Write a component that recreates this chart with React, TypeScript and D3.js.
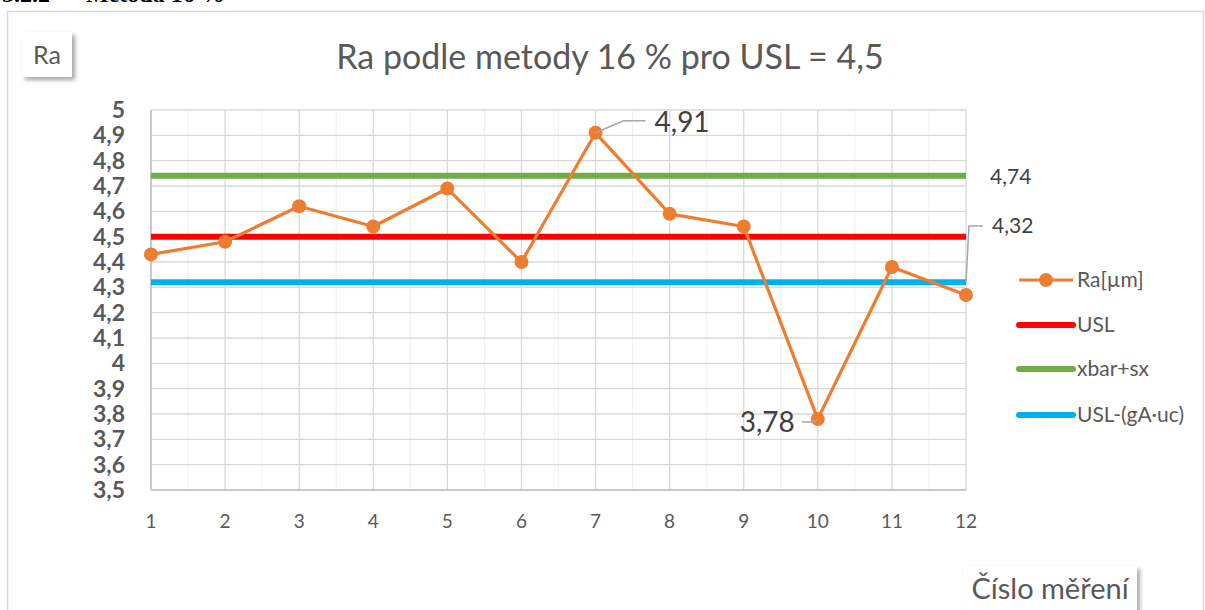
import React from "react";
import * as d3 from "d3";

const categories = [1, 2, 3, 4, 5, 6, 7, 8, 9, 10, 11, 12];
const raValues = [4.43, 4.48, 4.62, 4.54, 4.69, 4.4, 4.91, 4.59, 4.54, 3.78, 4.38, 4.27];
const uslValue = 4.5;
const xbarSxValue = 4.74;
const uslGaUcValue = 4.32;
const yTicks = [3.5, 3.6, 3.7, 3.8, 3.9, 4, 4.1, 4.2, 4.3, 4.4, 4.5, 4.6, 4.7, 4.8, 4.9, 5];
const legendItems = ["Ra[µm]", "USL", "xbar+sx", "USL-(gA·uc)"];

const FONT = "Lato, 'Open Sans', sans-serif";
const fmt = (v: number) => String(v).replace(".", ",");

export default function App() {
  const W = 1205, H = 610;
  const x = d3.scaleLinear().domain([1, 12]).range([151, 966]);
  const y = d3.scaleLinear().domain([3.5, 5]).range([490, 110]);
  const line = d3.line<number>().x((_, i) => x(categories[i])).y((d) => y(d));
  const minor = d3.range(1.5, 12, 1);
  const orange = "#ed7d31";
  const legendY = [280, 325, 369, 415];
  const legendColors = [orange, "#ff0000", "#70ad47", "#00b0f0"];

  const iMax = raValues.indexOf(d3.max(raValues)!);
  const iMin = raValues.indexOf(d3.min(raValues)!);

  return (
    <svg width={W} height={H} style={{ position: "absolute", left: 0, top: 0, background: "#fff" }}>
      <defs>
        <filter id="sh" x="-20%" y="-20%" width="160%" height="160%">
          <feDropShadow dx="3" dy="3" stdDeviation="2" floodColor="#000" floodOpacity="0.35" />
        </filter>
      </defs>
      <text x={2} y={2} xmlSpace="preserve" fontFamily="'Liberation Serif', serif" fontWeight="bold" fontSize={24} fill="#000">
        3.2.2      Metoda 16 %
      </text>
      <rect x={7.5} y={11.5} width={1196} height={640} fill="#fff" stroke="#d9d9d9" strokeWidth={1.5} />

      {/* gridlines */}
      {minor.map((m) => (
        <line key={"m" + m} x1={x(m)} x2={x(m)} y1={y(5)} y2={y(3.5)} stroke="#f0f0f0" strokeWidth={1.2} />
      ))}
      {categories.map((c) => (
        <line key={"v" + c} x1={x(c)} x2={x(c)} y1={y(5)} y2={y(3.5)} stroke="#d9d9d9" strokeWidth={1.3} />
      ))}
      {yTicks.map((t) => (
        <line key={"h" + t} x1={x(1)} x2={x(12)} y1={y(t)} y2={y(t)} stroke="#d9d9d9" strokeWidth={1.3} />
      ))}
      <line x1={x(1)} x2={x(1)} y1={y(5)} y2={y(3.5)} stroke="#bfbfbf" strokeWidth={1.5} />
      <line x1={x(1)} x2={x(12)} y1={y(3.5)} y2={y(3.5)} stroke="#bfbfbf" strokeWidth={1.5} />

      {/* y tick labels */}
      {yTicks.map((t) => (
        <text key={"yt" + t} x={125} y={y(t) + 8} textAnchor="end" fontFamily={FONT} fontWeight="bold" fontSize={23} fill="#595959">
          {fmt(t)}
        </text>
      ))}
      {/* x tick labels */}
      {categories.map((c) => (
        <text key={"xt" + c} x={x(c)} y={528} textAnchor="middle" fontFamily={FONT} fontSize={19} fill="#595959">
          {c}
        </text>
      ))}

      {/* reference lines */}
      <line x1={x(1)} x2={x(12)} y1={y(xbarSxValue)} y2={y(xbarSxValue)} stroke="#70ad47" strokeWidth={6} />
      <line x1={x(1)} x2={x(12)} y1={y(uslValue)} y2={y(uslValue)} stroke="#ff0000" strokeWidth={6} />
      <line x1={x(1)} x2={x(12)} y1={y(uslGaUcValue)} y2={y(uslGaUcValue)} stroke="#00b0f0" strokeWidth={6} />

      {/* Ra series */}
      <path d={line(raValues)!} fill="none" stroke={orange} strokeWidth={3.2} strokeLinejoin="round" />
      {raValues.map((v, i) => (
        <circle key={"p" + i} cx={x(categories[i])} cy={y(v)} r={7} fill={orange} />
      ))}

      {/* data labels */}
      <polyline
        points={`${x(categories[iMax])},${y(raValues[iMax])} ${x(categories[iMax]) + 28},${y(raValues[iMax]) - 12} ${x(categories[iMax]) + 50},${y(raValues[iMax]) - 12}`}
        fill="none" stroke="#a6a6a6" strokeWidth={1.5}
      />
      <text x={x(categories[iMax]) + 59} y={y(raValues[iMax]) - 1} fontFamily={FONT} fontSize={28} fill="#404040">
        {fmt(raValues[iMax])}
      </text>
      <polyline
        points={`${x(categories[iMin])},${y(raValues[iMin])} ${x(categories[iMin]) - 4},${y(raValues[iMin]) + 3} ${x(categories[iMin]) - 16},${y(raValues[iMin]) + 3}`}
        fill="none" stroke="#a6a6a6" strokeWidth={1.5}
      />
      <text x={x(categories[iMin]) - 23} y={y(raValues[iMin]) + 13} textAnchor="end" fontFamily={FONT} fontSize={28} fill="#404040">
        {fmt(raValues[iMin])}
      </text>
      <text x={990} y={y(xbarSxValue) + 8} fontFamily={FONT} fontSize={21} fill="#404040">
        {fmt(xbarSxValue)}
      </text>
      <polyline
        points={`${x(12)},${y(uslGaUcValue)} ${x(12) + 3},${226} ${x(12) + 17},${226}`}
        fill="none" stroke="#a6a6a6" strokeWidth={1.5}
      />
      <text x={992} y={233} fontFamily={FONT} fontSize={21} fill="#404040">
        {fmt(uslGaUcValue)}
      </text>

      {/* legend */}
      {legendItems.map((name, i) => (
        <g key={name}>
          {i === 0 ? (
            <>
              <line x1={1019} x2={1073} y1={legendY[i]} y2={legendY[i]} stroke={orange} strokeWidth={3.2} />
              <circle cx={1046} cy={legendY[i]} r={7} fill={orange} />
            </>
          ) : (
            <line x1={1019} x2={1073} y1={legendY[i]} y2={legendY[i]} stroke={legendColors[i]} strokeWidth={6} strokeLinecap="round" />
          )}
          <text x={1077} y={legendY[i] + 7} fontFamily={FONT} fontSize={21} fill="#595959">
            {name}
          </text>
        </g>
      ))}

      {/* title */}
      <text x={610} y={69} textAnchor="middle" fontFamily={FONT} fontSize={34} fill="#595959">
        Ra podle metody 16 % pro USL = 4,5
      </text>

      {/* axis title boxes */}
      <rect x={22} y={32} width={50} height={45} fill="#fff" filter="url(#sh)" />
      <text x={47} y={64} textAnchor="middle" fontFamily={FONT} fontSize={25} fill="#595959">Ra</text>
      <rect x={963} y={566} width={174} height={50} fill="#fff" filter="url(#sh)" />
      <text x={1050} y={599} textAnchor="middle" fontFamily={FONT} fontSize={29} fill="#595959">Číslo měření</text>
    </svg>
  );
}
